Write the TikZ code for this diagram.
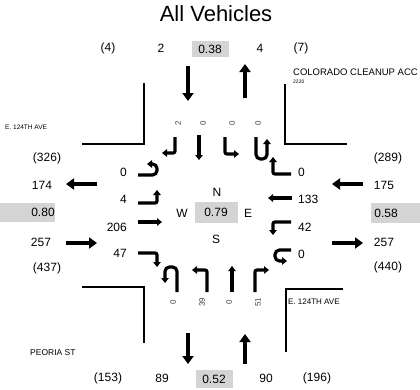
\documentclass[tikz,border=0pt]{standalone}
\usepackage{fontspec}
\setmainfont{Liberation Sans}
\usetikzlibrary{arrows.meta}

\begin{document}
\begin{tikzpicture} %Conteo de giros
  [x=1pt, y=-1pt,
    % Definimos los estilos para no repetir código
    num/.style={font=\fontsize{12}{12}\selectfont, inner sep=0pt},
    fhp/.style={num, fill=black!17, minimum width=37pt, minimum height=16pt},
    carril/.style={font=\fontsize{8}{8}\selectfont, rotate=90, inner sep=0pt, text=black!75},
    calle/.style={font=\fontsize{6.5}{6.5}\selectfont, inner sep=0pt, anchor=west},
    flujo/.style={line width=4.5pt, -{Triangle[length=8pt, width=11pt]}},
    giro/.style={line width=3.2pt, rounded corners=2pt, -{Triangle[length=5pt, width=7.5pt]}},
    vuelta/.style={giro, rounded corners=4.5pt},
    esquina/.style={line width=1.4pt}
  ]
  \useasboundingbox (0,0) rectangle (420,389);
  \node[font=\fontsize{22}{22}\selectfont, inner sep=0pt] (titulo) at (216,14) {All Vehicles};

  % norte
  \node[num] (n_tot1) at (108,48) {(4)};
  \node[num] (n_ent) at (161,48) {2};
  \node[fhp] (n_fhp) at (210,49) {0.38};
  \node[num] (n_sal) at (260,48) {4};
  \node[num] (n_tot2) at (301,48) {(7)};
  \draw[flujo] (188,66) -- (188,101);
  \draw[flujo] (245,98) -- (245,64);
  \node[carril] (n_d) at (178,123) {2};
  \node[carril] (n_t) at (203,123) {0};
  \node[carril] (n_i) at (232,123) {0};
  \node[carril] (n_u) at (258,123) {0};
  \draw[giro] (175,137) -- (175,153) -- (162,153);
  \draw[giro] (199,135) -- (199,160);
  \draw[giro] (225,137) -- (225,154) -- (239,154);
  \draw[vuelta] (256,137) -- (256,159) -- (267,159) -- (267,139);

  % oeste
  \node[num] (o_tot1) at (47,158) {(326)};
  \node[num] (o_sal) at (42,185) {174};
  \fill[black!17] (0,203) rectangle (55,222);
  \node[num] (o_fhp) at (43,212) {0.80};
  \node[num] (o_ent) at (41,242) {257};
  \node[num] (o_tot2) at (47,268) {(437)};
  \draw[flujo] (97,184) -- (66,184);
  \draw[flujo] (66,243) -- (97,243);
  \node[num, anchor=east] (o_u) at (127,172) {0};
  \node[num, anchor=east] (o_i) at (127,199) {4};
  \node[num, anchor=east] (o_t) at (127,227) {206};
  \node[num, anchor=east] (o_d) at (127,253) {47};
  \draw[vuelta] (138,175) -- (157,175) -- (157,164) -- (147,164);
  \draw[giro] (138,203) -- (157,203) -- (157,190);
  \draw[giro] (138,222) -- (162,222);
  \draw[giro] (138,253) -- (157,253) -- (157,267);

  % centro
  \node[num] (dir_n) at (217,192) {N};
  \node[num] (dir_w) at (182,213) {W};
  \node[fhp, minimum width=43pt, minimum height=21pt] (c_fhp) at (216,212) {0.79};
  \node[num] (dir_e) at (248,213) {E};
  \node[num] (dir_s) at (216,239) {S};

  % este
  \node[num] (e_tot1) at (388,158) {(289)};
  \node[num] (e_ent) at (384,185) {175};
  \fill[black!17] (371,203) rectangle (420,223);
  \node[num] (e_fhp) at (386,213) {0.58};
  \node[num] (e_sal) at (384,242) {257};
  \node[num] (e_tot2) at (388,267) {(440)};
  \draw[flujo] (363,184) -- (332,184);
  \draw[flujo] (332,243) -- (363,243);
  \node[num, anchor=west] (e_d) at (298,172) {0};
  \node[num, anchor=west] (e_t) at (298,199) {133};
  \node[num, anchor=west] (e_i) at (298,227) {42};
  \node[num, anchor=west] (e_u) at (298,254) {0};
  \draw[giro] (291,174) -- (273,174) -- (273,157);
  \draw[giro] (292,198) -- (268,198);
  \draw[giro] (291,222) -- (273,222) -- (273,235);
  \draw[vuelta] (291,250) -- (275,250) -- (275,261) -- (287,261);

  % sur
  \draw[vuelta] (177,292) -- (177,267) -- (165,267) -- (165,283);
  \draw[giro] (207,292) -- (207,270) -- (192,270);
  \draw[giro] (232,292) -- (232,266);
  \draw[giro] (255,292) -- (255,270) -- (269,270);
  \node[carril] (s_u) at (173,302) {0};
  \node[carril] (s_i) at (202,302) {39};
  \node[carril] (s_t) at (229,302) {0};
  \node[carril] (s_d) at (258,302) {51};
  \draw[flujo] (188,333) -- (188,364);
  \draw[flujo] (245,364) -- (245,334);
  \node[num] (s_tot1) at (108,378) {(153)};
  \node[num] (s_sal) at (162,378) {89};
  \node[fhp, minimum height=18pt] (s_fhp) at (214,379) {0.52};
  \node[num] (s_ent) at (266,378) {90};
  \node[num] (s_tot2) at (317,378) {(196)};

  % esquinas y calles
  \draw[esquina] (82,144) -- (144,144) -- (144,83);
  \draw[esquina] (285,84) -- (285,144) -- (347,144);
  \draw[esquina] (82,287) -- (144,287) -- (144,343);
  \draw[esquina] (286,352) -- (286,289) -- (343,289);
  \node[calle] (c_oeste) at (5,127) {E. 124TH AVE};
  \node[calle, font=\fontsize{9.5}{9.5}\selectfont] (c_norte) at (293,72) {COLORADO CLEANUP ACC};
  \node[calle, font=\fontsize{5}{5}\selectfont] (c_norte2) at (293,82) {2220};
  \node[calle, font=\fontsize{8}{8}\selectfont] (c_este) at (288,302) {E. 124TH AVE};
  \node[calle, font=\fontsize{8.5}{8.5}\selectfont] (c_sur) at (30,353) {PEORIA ST};
  
\end{tikzpicture}
\end{document}
